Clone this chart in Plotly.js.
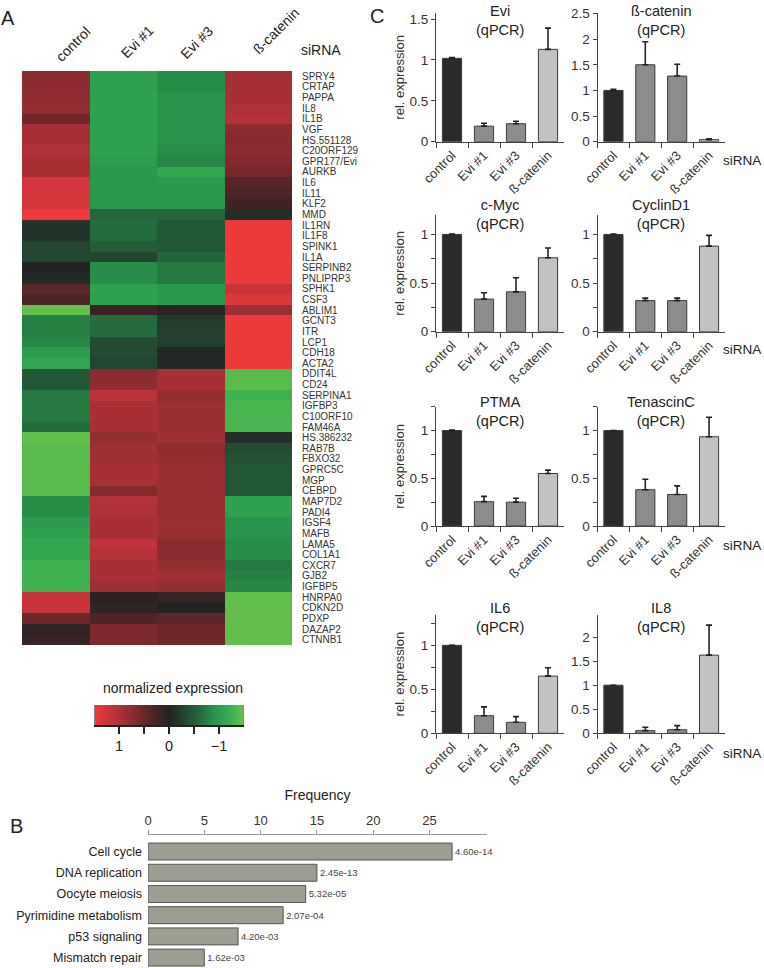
<!DOCTYPE html>
<html><head><meta charset="utf-8">
<script src="https://cdn.plot.ly/plotly-3.0.1.min.js"></script>
<style>body{margin:0;background:#fff}#chart{width:764px;height:968px}</style>
</head><body><div id="chart"></div>
<script>
// ---------- DATA ----------
const conditions = ['control', 'Evi #1', 'Evi #3', 'ß-catenin'];

const genes = ['SPRY4','CRTAP','PAPPA','IL8','IL1B','VGF','HS.551128','C20ORF129','GPR177/Evi','AURKB',
  'IL6','IL11','KLF2','MMD','IL1RN','IL1F8','SPINK1','IL1A','SERPINB2','PNLIPRP3','SPHK1','CSF3','ABLIM1',
  'GCNT3','ITR','LCP1','CDH18','ACTA2','DDIT4L','CD24','SERPINA1','IGFBP3','C10ORF10','FAM46A','HS.386232',
  'RAB7B','FBXO32','GPRC5C','MGP','CEBPD','MAP7D2','PADI4','IGSF4','MAFB','LAMA5','COL1A1','CXCR7','GJB2',
  'IGFBP5','HNRPA0','CDKN2D','PDXP','DAZAP2','CTNNB1'];

const exprControl = [0.75,0.75,0.78,0.8,0.55,0.95,0.95,1.0,0.95,0.95,1.3,1.3,1.3,1.5,
  -0.15,-0.15,-0.3,-0.3,0,-0.05,0.4,0.3,-1.45,-0.75,-0.75,-0.8,-1.0,-1.1,
  -0.45,-0.45,-0.7,-0.7,-0.7,-0.6,-1.45,-1.4,-1.4,-1.4,-1.4,-1.4,
  -0.85,-0.85,-1.0,-1.05,-1.1,-1.1,-1.25,-1.25,-1.25,1.2,1.2,0.5,0.1,0.15];
const exprEvi1 = [-1.05,-1.05,-1.05,-1.05,-1.05,-1.05,-1.05,-1.05,-1.0,-0.95,-0.95,-0.95,-0.95,-0.55,
  -0.6,-0.6,-0.5,-0.3,-0.85,-0.85,-1.05,-1.05,0.15,-0.6,-0.6,-0.35,-0.35,-0.3,
  0.75,0.75,1.1,0.95,0.95,0.95,0.8,0.9,0.9,0.95,0.95,0.7,
  1.05,1.0,0.95,0.95,1.15,1.05,0.95,0.95,0.9,0.05,0.1,0.3,0.65,0.65];
const exprEvi3 = [-0.85,-0.85,-0.9,-0.9,-0.9,-0.9,-0.9,-0.85,-0.8,-1.1,-0.95,-0.95,-0.95,-0.55,
  -0.45,-0.45,-0.45,-0.55,-0.7,-0.7,-0.95,-0.95,0.05,-0.2,-0.25,-0.25,-0.05,-0.05,
  0.95,0.95,0.8,0.85,0.85,0.85,0.9,0.75,0.8,0.85,0.85,0.85,
  0.85,0.85,0.9,0.85,0.75,0.75,0.8,0.9,0.8,0.15,0,0.4,0.55,0.55];
const exprBcat = [0.95,0.95,0.95,1.0,1.05,0.75,0.7,0.75,0.7,0.6,0.35,0.3,0.2,-0.1,
  1.5,1.5,1.5,1.5,1.5,1.5,1.2,1.35,0.85,1.5,1.5,1.5,1.5,1.5,
  -1.4,-1.4,-1.25,-1.3,-1.3,-1.3,-0.1,-0.35,-0.4,-0.45,-0.45,-0.45,
  -1.05,-1.05,-0.9,-0.9,-0.85,-0.85,-0.7,-0.75,-0.8,-1.45,-1.45,-1.45,-1.45,-1.45];

const colorbarTicks = [1.5, 1, 0.5, 0, -0.5, -1, -1.5];

const keggTerms = ['Cell cycle','DNA replication','Oocyte meiosis','Pyrimidine metabolism','p53 signaling','Mismatch repair'];
const keggFreq = [27, 15, 14, 12, 8, 5];
const keggP = ['4.60e-14','2.45e-13','5.32e-05','2.07e-04','4.20e-03','1.62e-03'];

const qpcrNames = ['Evi','ß-catenin','c-Myc','CyclinD1','PTMA','TenascinC','IL6','IL8'];
const eviMean = [1.02, 0.19, 0.22, 1.13],   eviErr = [0.01, 0.035, 0.03, 0.26];
const bcatMean = [1.0, 1.5, 1.28, 0.04],    bcatErr = [0.02, 0.45, 0.23, 0.015];
const mycMean = [1.0, 0.335, 0.41, 0.76],   mycErr = [0.005, 0.065, 0.145, 0.10];
const ccnd1Mean = [1.0, 0.32, 0.32, 0.88],  ccnd1Err = [0.005, 0.025, 0.025, 0.11];
const ptmaMean = [1.0, 0.255, 0.25, 0.55],  ptmaErr = [0.005, 0.055, 0.04, 0.035];
const tncMean = [1.0, 0.38, 0.33, 0.935],   tncErr = [0, 0.11, 0.09, 0.205];
const il6Mean = [1.0, 0.2, 0.125, 0.65],    il6Err = [0, 0.1, 0.065, 0.095];
const il8Mean = [1.0, 0.055, 0.075, 1.625], il8Err = [0, 0.07, 0.085, 0.625];

// ---------- LAYOUT HELPERS ----------
const W = 764, H = 968;
const fx = p => p / W, fy = p => 1 - p / H;
const FONT = 'Arial, "Liberation Sans", sans-serif';
const colorscale = [
  [0.0, '#6cc24a'], [0.1, '#36ae52'], [0.2, '#28954a'], [0.333, '#235e39'],
  [0.5, '#232323'], [0.667, '#6a2629'], [0.8, '#a02f35'], [0.9, '#c7353a'], [1.0, '#ee3a3d']];

const traces = [];
const layout = {
  width: W, height: H, margin: {l: 0, r: 0, t: 0, b: 0},
  paper_bgcolor: '#fff', plot_bgcolor: 'rgba(0,0,0,0)',
  font: {family: FONT, color: '#222'}, showlegend: false, annotations: []
};
function ann(text, px, py, size, extra) {
  layout.annotations.push(Object.assign({text, xref: 'paper', yref: 'paper', x: fx(px), y: fy(py),
    xanchor: 'center', yanchor: 'middle', showarrow: false, font: {size, family: FONT, color: '#222'}}, extra || {}));
}

// ---------- A: heatmap ----------
traces.push({
  type: 'heatmap', x: conditions, y: genes,
  z: genes.map((g, i) => [exprControl[i], exprEvi1[i], exprEvi3[i], exprBcat[i]]),
  colorscale, zmin: -1.5, zmax: 1.5, showscale: false, xaxis: 'x', yaxis: 'y', hoverinfo: 'x+y+z'
});
layout.xaxis = {domain: [fx(22), fx(292)], anchor: 'y', type: 'category', showticklabels: false, ticks: '',
  showgrid: false, zeroline: false, showline: false};
layout.yaxis = {domain: [fy(645), fy(71)], anchor: 'x', type: 'category', autorange: 'reversed', side: 'right',
  ticks: '', tickmode: 'array', tickvals: genes, ticktext: genes, showgrid: false, zeroline: false,
  showline: false, tickfont: {size: 10, color: '#333'}, ticklabelstandoff: 9};

const colLabelPos = [[73, 44], [137, 42], [197, 42], [276, 31]];
conditions.forEach((c, i) => ann(c, colLabelPos[i][0], colLabelPos[i][1], 14, {textangle: -45}));
ann('siRNA', 321, 50, 14);
ann('A', 8, 18, 20);

// colour key
traces.push({
  type: 'heatmap', x: colorbarTicks, y: [0, 1], z: [colorbarTicks, colorbarTicks], zsmooth: 'best',
  colorscale, zmin: -1.5, zmax: 1.5, showscale: false, xaxis: 'x2', yaxis: 'y2', hoverinfo: 'skip'
});
layout.xaxis2 = {domain: [fx(95), fx(243)], anchor: 'y2', range: [1.48, -1.48], tickmode: 'array',
  tickvals: [1, 0.5, 0, -0.5, -1], ticktext: ['1', '', '0', '', '−1'], ticks: 'outside', ticklen: 7,
  tickwidth: 2, tickcolor: '#222', showline: true, linecolor: '#222', linewidth: 2, showgrid: false,
  zeroline: false, tickfont: {size: 14.5, color: '#222'}};
layout.yaxis2 = {domain: [fy(725), fy(705)], anchor: 'x2', range: [0, 1], showticklabels: false, ticks: '',
  showgrid: false, zeroline: false, showline: true, mirror: true, linecolor: '#888', linewidth: 1};
ann('normalized expression', 173, 688, 14);

// ---------- B: KEGG bar chart ----------
traces.push({
  type: 'bar', orientation: 'h', x: keggFreq, y: keggTerms, text: keggP, textposition: 'outside',
  constraintext: 'none', cliponaxis: false, textfont: {size: 9.5, color: '#444', family: FONT},
  marker: {color: '#9d9d92', line: {color: '#555', width: 1}}, xaxis: 'x3', yaxis: 'y3', hoverinfo: 'x+y'
});
layout.xaxis3 = {domain: [fx(148), fx(487)], anchor: 'y3', side: 'top', range: [0, 30.1],
  tickvals: [0, 5, 10, 15, 20, 25], ticks: 'outside', ticklen: 4, tickcolor: '#999', showline: true,
  linecolor: '#999', linewidth: 1, showgrid: false, zeroline: false, tickfont: {size: 13, color: '#333'},
  title: {text: 'Frequency', font: {size: 14, color: '#222'}, standoff: 8}};
layout.yaxis3 = {domain: [0, fy(835)], anchor: 'x3', type: 'category', range: [5.49, -0.78], ticks: '',
  showline: false, showgrid: false, zeroline: false, tickfont: {size: 12.5, color: '#222'},
  ticklabelstandoff: 5};
layout.bargap = 0.2;
ann('B', 16, 826, 20);

// ---------- C: qPCR panels ----------
ann('C', 377, 16, 20);
const qMeans = [eviMean, bcatMean, mycMean, ccnd1Mean, ptmaMean, tncMean, il6Mean, il8Mean];
const qErrs = [eviErr, bcatErr, mycErr, ccnd1Err, ptmaErr, tncErr, il6Err, il8Err];
const qRangeTop = [1.575, 2.51, 1.2, 1.2, 1.25, 1.25, 1.345, 2.46];
const qMinor = [false, false, true, true, true, true, true, false];
const colLeft = [436, 597.5], colRight = [564, 725];
const rowTop = [13, 215, 406.7, 615], rowBottom = [141.7, 331.7, 526, 733.3];
const titleY = [20, 214.5, 411.5, 617.5];
const siRNAY = [160, 350, 545, 753];
const barColors = ['#2b2b2b', '#8c8c8c', '#8c8c8c', '#c2c2c2'];

qpcrNames.forEach((name, k) => {
  const r = Math.floor(k / 2), c = k % 2, n = k + 4;
  const xa = 'x' + n, ya = 'y' + n;
  traces.push({
    type: 'bar', x: conditions, y: qMeans[k], xaxis: xa, yaxis: ya, width: 0.6,
    marker: {color: barColors, line: {color: '#3a3a3a', width: 1}},
    error_y: {type: 'data', symmetric: false, array: qErrs[k], arrayminus: qErrs[k].map(() => 0),
      color: '#222', thickness: 1.6, width: 3}, hoverinfo: 'x+y'
  });
  layout['xaxis' + n] = {domain: [fx(colLeft[c]), fx(colRight[c])], anchor: ya, type: 'category',
    range: [-0.5, 3.5], tickson: 'boundaries', ticks: 'outside', ticklen: 5, tickcolor: '#444',
    showline: true, linecolor: '#444', linewidth: 1, tickangle: -45, showgrid: false, zeroline: false,
    tickfont: {size: 13, color: '#333'}};
  const yax = {domain: [fy(rowBottom[r]), fy(rowTop[r])], anchor: xa, range: [0, qRangeTop[k]],
    dtick: 0.5, tick0: 0, ticks: 'outside', ticklen: 4, tickcolor: '#444', showline: true, linecolor: '#444',
    linewidth: 1, showgrid: false, zeroline: false, tickfont: {size: 13.5, color: '#333'}};
  if (qMinor[k]) yax.minor = {dtick: 0.25, tick0: 0, ticks: 'outside', ticklen: 4, tickcolor: '#444', showgrid: false};
  if (c === 0) yax.title = {text: 'rel. expression', font: {size: 13, color: '#333'}, standoff: 1};
  layout['yaxis' + n] = yax;
  ann(name + '<br>(qPCR)', (colLeft[c] + colRight[c]) / 2, titleY[r], 14.5);
  if (c === 1) ann('siRNA', 742, siRNAY[r], 13.5);
});

Plotly.newPlot('chart', traces, layout, {displayModeBar: false, staticPlot: true});
</script>
</body></html>
